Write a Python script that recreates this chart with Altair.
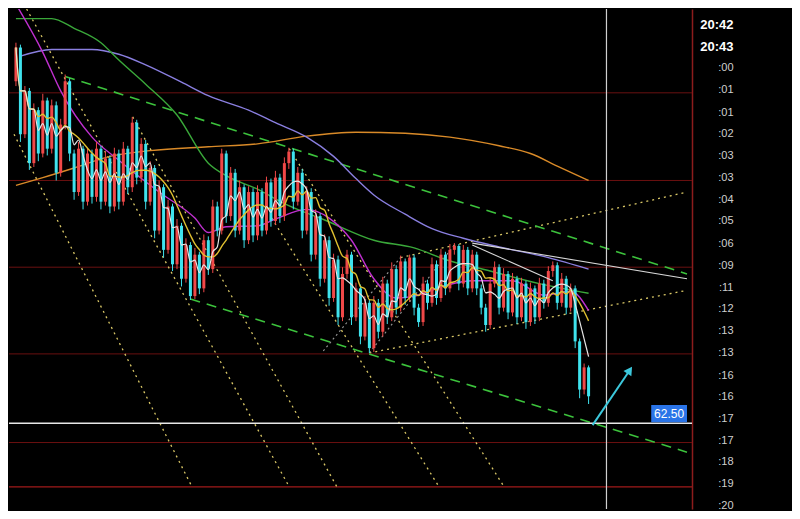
import altair as alt
import pandas as pd

# ---------------- candle data (index, price) ----------------
first_open = 66.05
closes = [66.40, 65.50, 65.95, 65.20, 65.75, 65.30, 65.85, 65.35, 65.80, 65.10,
          65.60, 66.05, 65.30, 64.90, 65.35, 64.80, 65.30, 64.85, 65.35, 64.80,
          65.25, 64.75, 65.30, 64.80, 65.35, 64.95, 65.62, 65.05, 65.40, 64.80,
          65.15, 64.50, 64.95, 64.30, 64.75, 64.15, 64.55, 64.00, 64.35, 63.82,
          64.25, 63.90, 64.40, 64.10, 64.75, 64.50, 65.30, 64.65, 65.10, 64.50,
          64.95, 64.40, 64.90, 64.45, 64.90, 64.50, 65.00, 64.60, 65.05, 64.65,
          65.20, 65.32, 64.80, 65.10, 64.50, 64.90, 64.25, 64.65, 64.00, 64.40,
          63.80, 64.20, 63.60, 64.05, 64.25, 63.60, 63.90, 63.40, 63.75, 63.28,
          63.75, 63.45, 63.95, 63.60, 64.10, 63.70, 64.18, 63.80, 64.22, 63.70,
          63.55, 63.95, 63.75, 64.15, 63.80, 64.25, 63.90, 64.30, 64.34, 63.95,
          64.30, 63.90, 64.25, 63.90, 63.70, 63.52, 63.95, 64.12, 63.70, 64.05,
          63.65, 64.00, 63.60, 63.95, 63.55, 63.90, 63.60, 63.95, 63.75, 64.08,
          64.14, 63.75, 64.00, 63.70, 63.90, 63.35, 62.85, 63.08, 62.78]
highs = [66.45, 66.43, 66.00, 65.98, 65.82, 65.78, 65.92, 65.88, 65.86, 65.84,
         65.66, 66.12, 66.08, 65.34, 65.42, 65.38, 65.36, 65.34, 65.42, 65.38,
         65.32, 65.28, 65.36, 65.34, 65.42, 65.38, 65.68, 65.65, 65.46, 65.44,
         65.22, 65.18, 65.02, 64.98, 64.82, 64.78, 64.62, 64.58, 64.42, 64.38,
         64.32, 64.28, 64.46, 64.44, 64.82, 64.80, 65.35, 65.33, 65.16, 65.14,
         65.02, 64.98, 64.96, 64.94, 64.97, 64.94, 65.06, 65.04, 65.12, 65.09,
         65.26, 65.36, 65.35, 65.16, 65.14, 64.96, 64.94, 64.72, 64.68, 64.46,
         64.44, 64.26, 64.24, 64.12, 64.30, 64.28, 63.96, 63.94, 63.82, 63.78,
         63.82, 63.79, 64.02, 63.99, 64.17, 64.14, 64.24, 64.21, 64.25, 64.25,
         63.74, 64.02, 63.99, 64.22, 64.19, 64.31, 64.28, 64.36, 64.37, 64.36,
         64.35, 64.33, 64.30, 64.28, 63.94, 63.74, 64.01, 64.18, 64.15, 64.11,
         64.08, 64.06, 64.03, 64.01, 63.98, 63.96, 63.93, 64.01, 63.99, 64.13,
         64.18, 64.17, 64.06, 64.03, 63.95, 63.93, 63.38, 63.12, 63.10]
lows = [66.00, 65.42, 65.46, 65.13, 65.16, 65.22, 65.26, 65.28, 65.30, 65.02,
        65.06, 65.55, 65.22, 64.82, 64.86, 64.72, 64.76, 64.78, 64.80, 64.72,
        64.76, 64.68, 64.70, 64.72, 64.76, 64.88, 64.90, 64.98, 65.00, 64.72,
        64.76, 64.42, 64.46, 64.22, 64.26, 64.08, 64.10, 63.92, 63.96, 63.78,
        63.79, 63.84, 63.86, 64.04, 64.06, 64.44, 64.46, 64.58, 64.60, 64.43,
        64.46, 64.32, 64.36, 64.38, 64.40, 64.44, 64.46, 64.54, 64.56, 64.58,
        64.60, 65.14, 64.72, 64.76, 64.42, 64.46, 64.18, 64.20, 63.92, 63.96,
        63.72, 63.76, 63.52, 63.56, 64.00, 63.52, 63.56, 63.32, 63.36, 63.23,
        63.24, 63.38, 63.40, 63.53, 63.56, 63.63, 63.66, 63.73, 63.76, 63.62,
        63.50, 63.51, 63.68, 63.71, 63.73, 63.76, 63.83, 63.86, 64.25, 63.88,
        63.91, 63.83, 63.86, 63.83, 63.63, 63.45, 63.48, 63.91, 63.63, 63.66,
        63.58, 63.61, 63.53, 63.56, 63.48, 63.51, 63.53, 63.56, 63.69, 63.71,
        64.02, 63.68, 63.71, 63.63, 63.66, 63.28, 62.76, 62.80, 62.70]
opens = [first_open] + closes[:-1]

# ---------------- moving averages ----------------
orange_i = [0, 6, 13, 21, 30, 43, 54, 65, 76, 87, 97, 108, 115, 121, 128]
orange_p = [64.97, 65.05, 65.15, 65.27, 65.33, 65.37, 65.40, 65.48, 65.52, 65.51,
            65.47, 65.38, 65.30, 65.17, 65.02]
blue_i = [1, 8, 17, 23, 29, 37, 43, 52, 58, 65, 71, 76, 80, 87, 93, 100, 108, 119, 128]
blue_p = [66.31, 66.38, 66.38, 66.33, 66.22, 66.04, 65.90, 65.75, 65.62, 65.47,
          65.27, 65.04, 64.87, 64.67, 64.52, 64.42, 64.33, 64.22, 64.10]
green_i = [0, 8, 13, 19, 23, 29, 36, 43, 47, 54, 60, 69, 80, 89, 96, 106, 117, 128]
green_p = [66.70, 66.70, 66.60, 66.45, 66.27, 66.02, 65.70, 65.20, 65.07, 64.93,
           64.78, 64.61, 64.40, 64.32, 64.20, 64.08, 63.95, 63.85]
magenta_i = [0, 6, 10, 17, 23, 32, 40, 43, 47, 54, 58, 65, 70, 75, 80, 85, 89, 96,
             102, 111, 118, 124, 128]
magenta_p = [66.85, 66.35, 65.95, 65.47, 65.23, 64.90, 64.63, 64.48, 64.54, 64.55,
             64.62, 64.72, 64.63, 64.40, 64.00, 63.80, 63.82, 63.93, 63.98, 63.98,
             63.83, 63.87, 63.67]

# ---------------- drawn trend lines: (id, i, p) endpoints ----------------
green_dash_id = ["g1", "g1", "g2", "g2"]
green_dash_i = [11, 150, 39, 150]
green_dash_p = [66.10, 64.05, 63.79, 62.20]

yellow_dot_id = ["a", "a", "b", "b", "c", "c", "d", "d", "e", "e", "u", "u", "l", "l"]
yellow_dot_i = [-0.43, 39.35, 2.39, 61.09, 26.09, 71.74, 57.17, 94.57, 61.09, 109.13,
                86, 150, 79, 150]
yellow_dot_p = [65.50, 61.84, 66.80, 61.84, 65.68, 61.84, 64.63, 61.84, 65.35, 61.84,
                64.22, 64.90, 63.23, 63.88]

gray_dot_id = ["s1", "s1", "s2", "s2"]
gray_dot_i = [68.7, 86.5, 79, 98]
gray_dot_p = [63.25, 64.25, 63.23, 64.35]

white_line_id = ["w1", "w1", "w2", "w2"]
white_line_i = [102, 150, 102, 120]
white_line_p = [64.37, 64.00, 64.35, 63.98]

red_levels = [65.93, 65.02, 64.12, 63.22, 62.30]
red_bottom = [61.84]
last_price = 62.50
cursor_i = 132

arrow_i = [128.9, 137.2]
arrow_p = [62.48, 63.05]

# ---------------- right axis labels ----------------
label_vals = [66.64, 66.41, 66.19, 65.96, 65.73, 65.51, 65.28, 65.05, 64.82, 64.60,
              64.37, 64.14, 63.91, 63.69, 63.46, 63.23, 63.00, 62.78, 62.55, 62.32,
              62.10, 61.87, 61.65]
label_txt = ["20:42", "20:43", ":00", ":01", ":01", ":02", ":03", ":03", ":04", ":05",
             ":06", ":09", ":11", ":12", ":13", ":13", ":16", ":16", ":17", ":17",
             ":18", ":19", ":20"]

# ---------------- build ----------------
candles = pd.DataFrame({"i": list(range(len(closes))), "open": opens, "close": closes,
                        "high": highs, "low": lows})

expr = ("[" + ",".join(f"'{t}'" for t in label_txt) + "][indexof(["
        + ",".join(str(v) for v in label_vals) + "], datum.value)]")

right_axis = alt.Axis(
    orient="right", values=label_vals, labelExpr=expr, grid=False, ticks=False,
    domain=True, domainColor="#8c1c1c", domainWidth=1.5, title=None,
    labelColor={"condition": {"test": "datum.value > 66.3", "value": "#ffffff"}, "value": "#cfcfcf"},
    labelFontSize={"condition": {"test": "datum.value > 66.3", "value": 13}, "value": 11},
    labelFontWeight={"condition": {"test": "datum.value > 66.3", "value": "bold"}, "value": "normal"},
    labelFont="Liberation Sans", labelAlign="right", labelBaseline="middle",
    labelPadding=41, labelOverlap=False, minExtent=100, maxExtent=100,
)

xs = alt.Scale(domain=[-0.435, 150], nice=False, zero=False)
ys = alt.Scale(domain=[61.61, 66.80], nice=False, zero=False)
X = alt.X("i:Q", scale=xs, axis=None)


def Y(field):
    return alt.Y(f"{field}:Q", scale=ys, axis=right_axis)


up_col = "#f04848"
dn_col = "#3fe3ee"
cond_col = alt.condition("datum.close >= datum.open", alt.value(up_col), alt.value(dn_col))

red_df = pd.DataFrame({"p": red_levels})
red_layer = alt.Chart(red_df).mark_rule(color="#6a1010", strokeWidth=1).encode(y=Y("p"))
red_bottom_layer = alt.Chart(pd.DataFrame({"p": red_bottom})).mark_rule(
    color="#a01a1a", strokeWidth=1.2).encode(y=Y("p"))


def poly(ids, ii, pp, **mk):
    df = pd.DataFrame({"id": ids, "i": ii, "p": pp})
    return alt.Chart(df).mark_line(clip=True, **mk).encode(x=X, y=Y("p"), detail="id:N")


def ma(ii, pp, color, width=1.4):
    df = pd.DataFrame({"i": ii, "p": pp})
    return alt.Chart(df).mark_line(color=color, strokeWidth=width, interpolate="monotone",
                                   clip=True).encode(x=X, y=Y("p"))


yellow_dots = poly(yellow_dot_id, yellow_dot_i, yellow_dot_p, color="#d9c766",
                   strokeWidth=1.3, strokeDash=[2, 4])
gray_dots = poly(gray_dot_id, gray_dot_i, gray_dot_p, color="#9a9a9a",
                 strokeWidth=1.1, strokeDash=[2, 3])
green_dash = poly(green_dash_id, green_dash_i, green_dash_p, color="#3cc23c",
                  strokeWidth=1.6, strokeDash=[10, 7])
white_lines = poly(white_line_id, white_line_i, white_line_p, color="#d8d8d8",
                   strokeWidth=1.1)

orange = ma(orange_i, orange_p, "#d98a28")
blue = ma(blue_i, blue_p, "#8a7fe0")
green = ma(green_i, green_p, "#3aa83a")
magenta = ma(magenta_i, magenta_p, "#c030d0")

base = alt.Chart(candles)
wicks = base.mark_rule(strokeWidth=1).encode(x=X, y=Y("low"), y2="high:Q", color=cond_col)
bodies = base.mark_bar(size=3).encode(x=X, y=Y("open"), y2="close:Q", color=cond_col)

ma10 = base.transform_window(ma10="mean(close)", frame=[-9, 0], sort=[{"field": "i"}]).mark_line(
    color="#e0c030", strokeWidth=1.4, interpolate="monotone", clip=True).encode(x=X, y=Y("ma10"))
ma5 = base.transform_window(ma5="mean(close)", frame=[-4, 0], sort=[{"field": "i"}]).mark_line(
    color="#e6e6e6", strokeWidth=1.2, interpolate="monotone", clip=True).encode(x=X, y=Y("ma5"))

hline = alt.Chart(pd.DataFrame({"p": [last_price]})).mark_rule(
    color="#e8e8e8", strokeWidth=1.5).encode(y=Y("p"))
vline = alt.Chart(pd.DataFrame({"i": [cursor_i]})).mark_rule(
    color="#d0d0d0", strokeWidth=1.2).encode(x=X)

box_df = pd.DataFrame({"i": [142], "i2": [150], "p": [last_price + 0.01],
                       "p2": [last_price + 0.19], "pm": [last_price + 0.10],
                       "im": [146], "t": [f"{last_price:.2f}"]})
box = alt.Chart(box_df).mark_rect(color="#2a74e8").encode(
    x=X, x2="i2:Q", y=Y("p"), y2="p2:Q")
box_txt = alt.Chart(box_df).mark_text(color="#ffffff", fontSize=12, font="Liberation Sans",
                                      align="center", baseline="middle").encode(
    x=alt.X("im:Q", scale=xs, axis=None), y=Y("pm"), text="t:N")

arrow_df = pd.DataFrame({"i": arrow_i, "p": arrow_p})
arrow_line = alt.Chart(arrow_df).mark_line(color="#3cc8dc", strokeWidth=2).encode(x=X, y=Y("p"))
arrow_head = alt.Chart(arrow_df.tail(1)).mark_point(
    shape="triangle-up", filled=True, color="#3cc8dc", size=90, angle=34, opacity=1).encode(
    x=X, y=Y("p"))

chart = alt.layer(
    red_layer, red_bottom_layer, yellow_dots, gray_dots, green_dash,
    orange, blue, green, magenta, wicks, bodies, ma10, ma5, white_lines,
    hline, vline, box, box_txt, arrow_line, arrow_head,
).properties(
    width=784, height=503,
    autosize=alt.AutoSizeParams(type="fit", contains="padding"),
    padding=0, background="#000000",
).configure_view(stroke=None, fill="#000000")

chart.save("out.html", embed_options={"renderer": "svg", "actions": False})
